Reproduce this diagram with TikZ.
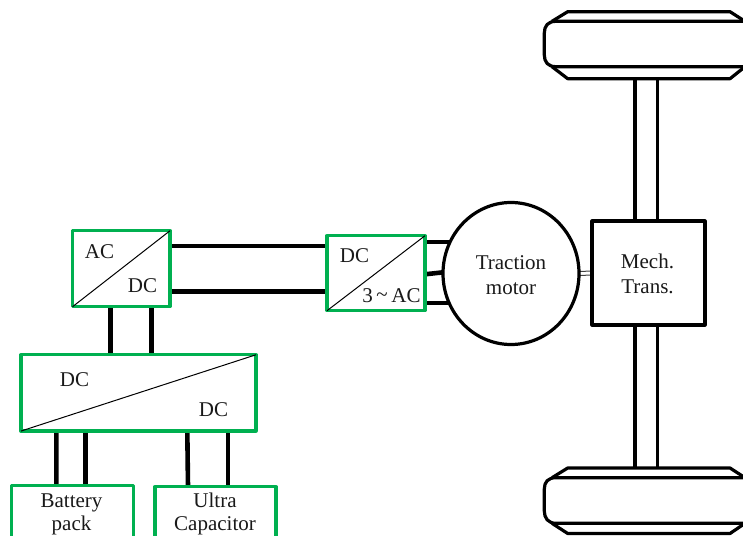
\documentclass[tikz,border=0pt]{standalone}
\usepackage{fontspec}
\usetikzlibrary{backgrounds,shapes.geometric}
\setmainfont{Liberation Serif}
\definecolor{boxgreen}{HTML}{00B050}
\tikzset{
  conv/.style={draw=boxgreen,line width=3.2pt,rectangle,inner sep=0pt,outer sep=0pt,fill=white,line join=round},
  plainbox/.style={draw=black,line width=3.2pt,rectangle,inner sep=0pt,outer sep=0pt,fill=white,line join=round},
  motorc/.style={draw=black,line width=3.2pt,ellipse,inner sep=0pt,outer sep=0pt,fill=white},
  lbl/.style={anchor=base,inner sep=0pt,font=\fontsize{21}{24}\selectfont,text=black!90},
  wire/.style={draw=black,line width=4.6pt},
  shaft/.style={draw=black,line width=3.2pt},
  thinwire/.style={draw=black!75,line width=1pt},
  diag/.style={draw=black,line width=1pt},
  tyre/.style={draw=black,line width=3.2pt,line join=round}
}
\begin{document}
\begin{tikzpicture}[x=1pt,y=-1pt]
\useasboundingbox (0,0) rectangle (743,535);
% nodes
\node[conv,minimum width=97.5pt,minimum height=76pt] (acdc) at (121.3,268.7) {};
\node[conv,minimum width=98pt,minimum height=75pt] (dcac) at (376,273.2) {};
\node[conv,minimum width=235pt,minimum height=76.3pt] (bigdc) at (138.5,392.9) {};
\node[conv,minimum width=121.5pt,minimum height=80pt] (batt) at (72.4,525.7) {};
\node[conv,minimum width=121pt,minimum height=80pt] (ucap) at (215.5,526.7) {};
\node[motorc,minimum width=136pt,minimum height=142pt] (motor) at (511,273.5) {};
\node[plainbox,minimum width=113pt,minimum height=104pt] (mech) at (648.5,273) {};
% tyres
\draw[tyre] (552,21.3) -- (567.7,11.7) -- (730,11.7) -- (745,21.3);
\draw[tyre] (552,66.7) -- (567.7,78.7) -- (730,78.7) -- (745,66.7);
\draw[tyre] (760,21.3) -- (556,21.3) .. controls (548,21.3) and (544.3,26) .. (544.3,33) -- (544.3,55) .. controls (544.3,62) and (548,66.7) .. (556,66.7) -- (760,66.7);
\draw[tyre] (552,477.7) -- (567.7,468) -- (730,468) -- (745,477.7);
\draw[tyre] (552,523.3) -- (567.7,533.5) -- (730,533.5) -- (745,523.3);
\draw[tyre] (760,477.7) -- (556,477.7) .. controls (548,477.7) and (544.3,482) .. (544.3,489) -- (544.3,511) .. controls (544.3,518) and (548,523.3) .. (556,523.3) -- (760,523.3);
\coordinate (st1) at (635,78.7);
\coordinate (st2) at (657.7,78.7);
\coordinate (sb1) at (635,468);
\coordinate (sb2) at (657.7,468);
% diagonals
\draw[diag] (acdc.south west) -- (acdc.north east);
\draw[diag] (dcac.south west) -- (dcac.north east);
\draw[diag] (bigdc.south west) -- (bigdc.north east);
% labels
\node[lbl] (l1) at (99.5,258) {AC};
\node[lbl] (l2) at (142.5,292) {DC};
\node[lbl] (l3) at (354.5,262) {DC};
\node[lbl] (l4) at (391.5,302) {3\,\raisebox{1pt}{\fontsize{21}{21}\selectfont\char"007E}\,AC};
\node[lbl] (l5) at (511,269) {Traction};
\node[lbl] (l6) at (511,294) {motor};
\node[lbl] (l7) at (647.5,268) {Mech.};
\node[lbl] (l8) at (647.5,293) {Trans.};
\node[lbl] (l9) at (74.5,386) {DC};
\node[lbl] (l10) at (213.5,416) {DC};
\node[lbl] (l11) at (71.5,507) {Battery};
\node[lbl] (l12) at (71.5,530) {pack};
\node[lbl] (l13) at (215,507) {Ultra};
\node[lbl] (l14) at (215,530) {Capacitor};
\begin{pgfonlayer}{background}
\fill[white] (0,0) rectangle (743,535);
% shafts
\draw[shaft] (st1) -- (st1 |- mech.north);
\draw[shaft] (st2) -- (st2 |- mech.north);
\draw[shaft] (sb1) -- (sb1 |- mech.south);
\draw[shaft] (sb2) -- (sb2 |- mech.south);
% wires
\draw[wire] ([yshift=22.7pt]acdc.east) -- ([yshift=27.2pt]dcac.west);
\draw[wire] ([yshift=-23pt]acdc.east) -- ([yshift=-18.5pt]dcac.west);
\draw[wire] ([yshift=31.2pt]dcac.east) -- ([yshift=31.2pt,xshift=20pt]dcac.east -| motor.west);
\draw[wire] ([yshift=-1.1pt]dcac.east) -- ([yshift=1.5pt,xshift=3pt]motor.west);
\draw[wire] ([yshift=-29.8pt]dcac.east) -- ([yshift=-29.8pt,xshift=20pt]dcac.east -| motor.west);
\draw[thinwire] ([yshift=2pt]motor.east) -- ([yshift=2pt]mech.west);
\draw[thinwire] ([yshift=-2pt]motor.east) -- ([yshift=-2pt]mech.west);
\draw[wire] ([xshift=-10.6pt]acdc.south) -- ([xshift=-27.8pt]bigdc.north);
\draw[wire] ([xshift=30pt]acdc.south) -- ([xshift=12.8pt]bigdc.north);
\draw[wire] ([xshift=-82.2pt]bigdc.south) -- ([xshift=-16.1pt]batt.north);
\draw[wire] ([xshift=-52.8pt]bigdc.south) -- ([xshift=13.3pt]batt.north);
\draw[wire] ([xshift=48.8pt]bigdc.south) -- ([xshift=-27.5pt]ucap.north);
\draw[wire] ([xshift=89.5pt]bigdc.south) -- ([xshift=12.5pt]ucap.north);
\end{pgfonlayer}
\end{tikzpicture}
\end{document}
